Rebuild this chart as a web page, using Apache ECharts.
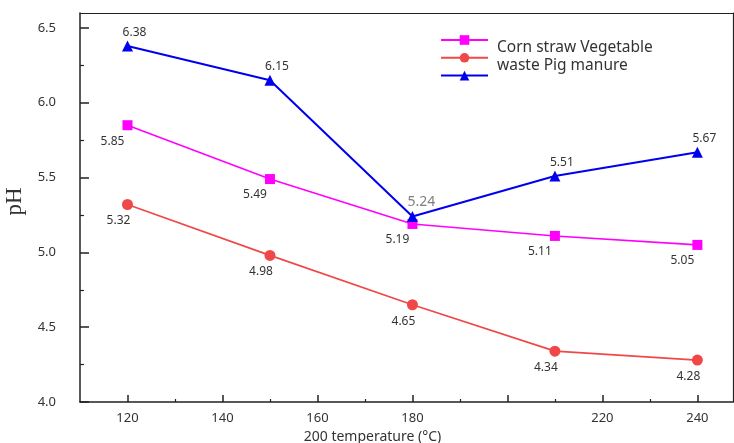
<!DOCTYPE html>
<html>
<head>
<meta charset="utf-8">
<script src="https://cdn.jsdelivr.net/npm/echarts@6/dist/echarts.min.js"></script>
<style>
  html, body { margin: 0; padding: 0; background: #fff; }
  #main { width: 734px; height: 443px; }
</style>
</head>
<body>
<div id="main"></div>
<script>
// temperature points
var temps = [120, 150, 180, 210, 240];
// pH of each treatment
var cornStraw = [5.85, 5.49, 5.19, 5.11, 5.05];
var vegWaste = [5.32, 4.98, 4.65, 4.34, 4.28];
var pigManure = [6.38, 6.15, 5.24, 5.51, 5.67];
// axis ticks
var xMajor = [120, 140, 160, 180, 200, 220, 240];
var xMinor = [130, 150, 170, 190, 210, 230];
var xLabels = [120, 140, 160, 180, 220, 240];
var yMajor = [4.0, 4.5, 5.0, 5.5, 6.0, 6.5];
var yMinor = [4.25, 4.75, 5.25, 5.75, 6.25];

var FONT = 'Noto Sans';

var chart = echarts.init(document.getElementById('main'));

function pairs(vals) {
    var out = [];
    for (var i = 0; i < vals.length; i++) {
        out.push([temps[i], vals[i]]);
    }
    return out;
}

var xBase = {
    type: 'value', min: 110, max: 247.5,
    splitLine: { show: false }
};
var yBase = {
    type: 'value', min: 4, max: 6.6,
    splitLine: { show: false }
};

var option = {
    backgroundColor: '#fff',
    animation: false,
    grid: { left: 80, right: 1, top: 13, bottom: 41, outerBoundsMode: 'none', containLabel: false },
    legend: {
        orient: 'vertical',
        left: 440, top: 34, padding: 0,
        itemWidth: 47, itemHeight: 12, itemGap: 7,
        formatter: function() { return ''; },
        data: ['Corn straw', 'Vegetable waste', 'Pig manure']
    },
    graphic: [{
        type: 'text', left: 497, top: 38,
        style: {
            text: 'Corn straw Vegetable\nwaste Pig manure',
            font: '15.5px "Noto Sans"', fill: '#333', lineHeight: 18.5
        }
    }],
    xAxis: [
        echarts.util.merge({
            name: '200 temperature (°C)',
            nameLocation: 'middle', nameGap: 26,
            nameTextStyle: { fontFamily: FONT, fontSize: 14, color: '#333', padding: [0, 68, 0, 0] },
            axisLine: { lineStyle: { color: '#222', width: 1.5 } },
            axisTick: { inside: true, length: 7, customValues: xMajor, lineStyle: { color: '#222', width: 1.5 } },
            axisLabel: { customValues: xLabels, margin: 10, fontFamily: FONT, fontSize: 13, color: '#333' }
        }, xBase),
        echarts.util.merge({
            position: 'bottom',
            axisLine: { show: false },
            axisTick: { inside: true, length: 3, customValues: xMinor, lineStyle: { color: '#222', width: 1.2 } },
            axisLabel: { show: false }
        }, xBase),
        echarts.util.merge({
            position: 'top',
            axisLine: { lineStyle: { color: '#222', width: 1.2 } },
            axisTick: { show: false },
            axisLabel: { show: false }
        }, xBase)
    ],
    yAxis: [
        echarts.util.merge({
            name: 'pH',
            nameLocation: 'middle', nameGap: 50, nameRotate: 90,
            nameTextStyle: { fontFamily: 'Liberation Serif', fontSize: 23, color: '#333', padding: [0, 0, 0, 12] },
            axisLine: { lineStyle: { color: '#222', width: 1.5 } },
            axisTick: { inside: true, length: 9, customValues: yMajor, lineStyle: { color: '#222', width: 1.5 } },
            axisLabel: {
                customValues: yMajor, margin: 24, fontFamily: FONT, fontSize: 13, color: '#333',
                formatter: function(v) { return v.toFixed(1); }
            }
        }, yBase),
        echarts.util.merge({
            position: 'left',
            axisLine: { show: false },
            axisTick: { inside: true, length: 4, customValues: yMinor, lineStyle: { color: '#222', width: 1.2 } },
            axisLabel: { show: false }
        }, yBase),
        echarts.util.merge({
            position: 'right',
            axisLine: { lineStyle: { color: '#222', width: 1.2 } },
            axisTick: { show: false },
            axisLabel: { show: false }
        }, yBase)
    ],
    series: [{
        name: 'Corn straw',
        type: 'line',
        data: pairs(cornStraw),
        symbol: 'rect', symbolSize: 10,
        itemStyle: { color: '#ff00ff' },
        lineStyle: { color: '#ff00ff', width: 1.6 },
        label: {
            show: true, position: 'bottom', distance: 5, offset: [-15, 0],
            fontFamily: FONT, fontSize: 12, color: '#333'
        }
    }, {
        name: 'Vegetable waste',
        type: 'line',
        data: pairs(vegWaste),
        symbol: 'circle', symbolSize: 11,
        itemStyle: { color: '#f04848' },
        lineStyle: { color: '#f04848', width: 1.6 },
        label: {
            show: true, position: 'bottom', distance: 5, offset: [-9, 0],
            fontFamily: FONT, fontSize: 12, color: '#333'
        }
    }, {
        name: 'Pig manure',
        type: 'line',
        data: pairs(pigManure).map(function(p, i) {
            if (i === 2) {
                return {
                    value: p,
                    label: { color: '#808080', fontSize: 14, backgroundColor: '#fff', offset: [9, 2] }
                };
            }
            return p;
        }),
        symbol: 'triangle', symbolSize: 11,
        itemStyle: { color: '#0000ee' },
        lineStyle: { color: '#0000ee', width: 2 },
        label: {
            show: true, position: 'top', distance: 4, offset: [7, 2],
            fontFamily: FONT, fontSize: 12, color: '#333'
        }
    }]
};

chart.setOption(option);
</script>
</body>
</html>
